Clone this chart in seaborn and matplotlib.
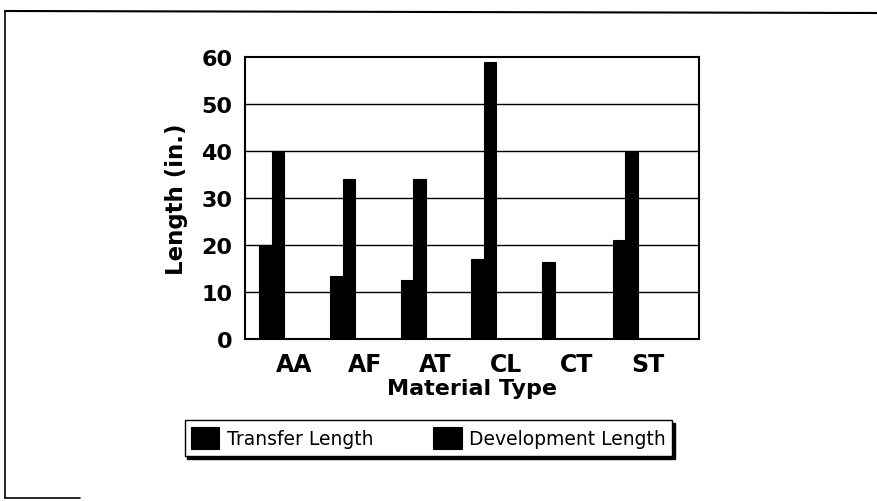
import matplotlib
matplotlib.use("Agg")
import matplotlib.pyplot as plt
from matplotlib.lines import Line2D
import seaborn as sns
import pandas as pd
import numpy as np

categories = ["AA", "AF", "AT", "CL", "CT", "ST"]
transfer_length = [20, 13.5, 12.5, 17, 16.3, 21]
development_length = [40, 34, 34, 59, 0, 40]
series_names = ["Transfer Length", "Development Length"]
y_ticks = [0, 10, 20, 30, 40, 50, 60]

df = pd.DataFrame({
    "Material Type": categories * 2,
    "Length": transfer_length + development_length,
    "Series": [series_names[0]] * len(categories) + [series_names[1]] * len(categories),
})

sns.set_theme(style="white")
plt.rcParams["font.family"] = ["DejaVu Sans"]
plt.rcParams["text.color"] = "black"

fig = plt.figure(figsize=(8.77, 5.02), dpi=100)
ax = fig.add_axes([0.2794, 0.3227, 0.5177, 0.5618])

bar_w = 0.354
sns.barplot(data=df, x="Material Type", y="Length", hue="Series",
            palette=["black", "black"], width=bar_w, ax=ax,
            edgecolor="black", linewidth=0.8, saturation=1)

handles, labels = ax.get_legend_handles_labels()
if ax.get_legend() is not None:
    ax.get_legend().remove()

ax.set_ylim(0, 60)
ax.set_yticks(y_ticks)
ax.set_xlim(-0.379, 6.042)
ax.set_xticks(np.arange(len(categories)) + 0.313)
ax.set_xticklabels(categories)

for y in y_ticks[1:-1]:
    ax.axhline(y, color="black", linewidth=1.0, zorder=0)

for s in ax.spines.values():
    s.set_visible(True)
    s.set_color("black")
    s.set_linewidth(1.5)

ax.tick_params(axis="both", length=0)
ax.tick_params(axis="x", pad=9, labelsize=17)
ax.tick_params(axis="y", pad=9, labelsize=16)
for t in ax.get_xticklabels() + ax.get_yticklabels():
    t.set_fontweight("bold")
    t.set_color("black")

ax.set_xlabel("Material Type", fontsize=16, fontweight="bold", color="black", labelpad=2)
ax.set_ylabel("Length (in.)", fontsize=16.5, fontweight="bold", color="black", labelpad=10)

leg = fig.legend(handles, labels, loc="center", bbox_to_anchor=(0.4886, 0.1255),
                 ncol=2, fontsize=13.5, frameon=True, fancybox=False,
                 edgecolor="black", framealpha=1, shadow={"color": "black", "alpha": 1},
                 handlelength=1.5, handleheight=1.5, handletextpad=0.4,
                 columnspacing=3.2, borderpad=0.35, borderaxespad=0)
leg.get_frame().set_linewidth(1.0)
for t in leg.get_texts():
    t.set_color("black")

# outer frame of the scanned figure
fig.add_artist(Line2D([5 / 877, 1.0], [1 - 12 / 502, 1 - 14 / 502], color="black", linewidth=1.5))
fig.add_artist(Line2D([5 / 877, 5 / 877], [1 - 12 / 502, 1 - 499 / 502], color="black", linewidth=1.2))
fig.add_artist(Line2D([5 / 877, 80 / 877], [1 - 499 / 502, 1 - 499 / 502], color="black", linewidth=1.2))

fig.savefig("out.png", dpi=100, facecolor="white")
